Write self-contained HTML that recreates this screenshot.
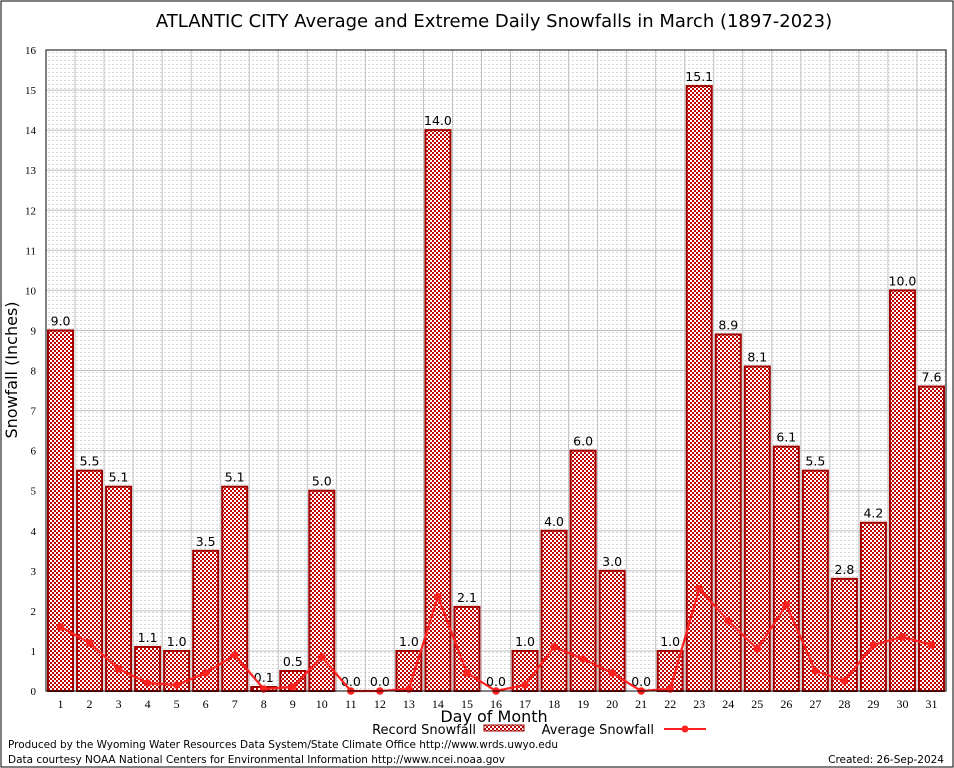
<!DOCTYPE html>
<html><head><meta charset="utf-8"><style>
body{margin:0;background:#fff;}
svg{display:block;font-family:"DejaVu Sans","Liberation Sans",sans-serif;}
</style></head><body>
<svg id="chart" width="954" height="768">
<defs>
<pattern id="chk" width="4" height="4" patternUnits="userSpaceOnUse">
<rect width="4" height="4" fill="#fff"/><rect width="2" height="2" fill="#c00000"/><rect x="2" y="2" width="2" height="2" fill="#c00000"/>
</pattern>
<pattern id="dots" width="4" height="4" patternUnits="userSpaceOnUse">
<rect width="4" height="4" fill="#fff"/><rect width="2" height="1" fill="#d8d8d8"/>
</pattern>
</defs>
<rect x="1" y="1" width="952" height="766" fill="#fff" stroke="#000"/>
<text x="494" y="27" font-size="18" text-anchor="middle">ATLANTIC CITY Average and Extreme Daily Snowfalls in March (1897-2023)</text>
<g id="grid"></g>
<g id="bars"></g>
<g id="avg"></g>
<g id="axes"></g>
<text transform="translate(17,370) rotate(-90)" font-size="16" text-anchor="middle">Snowfall (Inches)</text>
<text x="494" y="722" font-size="16" text-anchor="middle">Day of Month</text>
<g>
<text x="476" y="734" font-size="13" text-anchor="end">Record Snowfall</text>
<rect x="484" y="725" width="40" height="6" fill="url(#chk)" stroke="#a00000"/>
<text x="654" y="734" font-size="13" text-anchor="end">Average Snowfall</text>
<line x1="664" y1="729" x2="706" y2="729" stroke="#ff2020" stroke-width="2"/>
<circle cx="685" cy="729" r="3.5" fill="#ff2020"/>
</g>
<text x="8" y="748" font-size="10.5" textLength="550">Produced by the Wyoming Water Resources Data System/State Climate Office http://www.wrds.uwyo.edu</text>
<text x="8" y="763" font-size="10.5" textLength="497">Data courtesy NOAA National Centers for Environmental Information http://www.ncei.noaa.gov</text>
<text x="944" y="763" font-size="10.5" text-anchor="end">Created:  26-Sep-2024</text>
</svg>
<script>
const days = [1,2,3,4,5,6,7,8,9,10,11,12,13,14,15,16,17,18,19,20,21,22,23,24,25,26,27,28,29,30,31];
const recordSnow = [9.0,5.5,5.1,1.1,1.0,3.5,5.1,0.1,0.5,5.0,0.0,0.0,1.0,14.0,2.1,0.0,1.0,4.0,6.0,3.0,0.0,1.0,15.1,8.9,8.1,6.1,5.5,2.8,4.2,10.0,7.6];
const avgSnow = [1.6,1.2,0.55,0.2,0.15,0.45,0.9,0.05,0.1,0.85,0,0,0.05,2.35,0.45,0,0.15,1.1,0.8,0.45,0,0.05,2.55,1.75,1.05,2.15,0.5,0.25,1.15,1.35,1.15];
const yTicks = [0,1,2,3,4,5,6,7,8,9,10,11,12,13,14,15,16];

const NS="http://www.w3.org/2000/svg";
const L=46,R=946,T=50,B=691,yMax=16;
const step=(R-L)/31;
const x=d=>L+(d-0.5)*step;
const y=v=>B-(v/yMax)*(B-T);
function mk(tag,attrs,parent,txt){const e=document.createElementNS(NS,tag);for(const k in attrs)e.setAttribute(k,attrs[k]);if(txt!==undefined)e.textContent=txt;parent.appendChild(e);return e;}
const grid=document.getElementById('grid'),bars=document.getElementById('bars'),avg=document.getElementById('avg'),axes=document.getElementById('axes');
const bg=mk('rect',{x:L,y:T,width:R-L,height:B-T,fill:'url(#dots)'},grid);


yTicks.forEach(t=>{
  const g=mk('line',{x1:L,x2:R,y1:y(t),y2:y(t),stroke:'#c0c0c0'},grid);
  
  
  const lb=mk('text',{x:L-10,y:y(t)+4,'font-size':11,'text-anchor':'end','font-family':'Liberation Serif, serif'},axes,String(t));
  
  
});
for(let i=1;i<31;i++){
  const g=mk('line',{x1:L+i*step,x2:L+i*step,y1:T,y2:B,stroke:'#c0c0c0'},grid);
  
  
}
days.forEach((d,i)=>{
  const v=recordSnow[i],bw=25;
  const r=mk('rect',{x:x(d)-bw/2,y:y(v),width:bw,height:B-y(v),fill:'url(#chk)',stroke:'#a00000','stroke-width':2},bars);
  
  
  const t=mk('text',{x:x(d),y:y(v)-5,'font-size':12.5,'text-anchor':'middle'},bars,v.toFixed(1));
  
  
  const xl=mk('text',{x:x(d),y:B+17,'font-size':12,'text-anchor':'middle','font-family':'Liberation Serif, serif'},axes,String(d));
  
  
});
const pl=mk('polyline',{points:days.map((d,i)=>x(d)+','+y(avgSnow[i])).join(' '),fill:'none',stroke:'#ff2020','stroke-width':2.2},avg);


days.forEach((d,i)=>{
  const c=mk('circle',{cx:x(d),cy:y(avgSnow[i]),r:3.8,fill:'#ff2020'},avg);
  
  
});
const ax=mk('rect',{x:L,y:T,width:R-L,height:B-T,fill:'none',stroke:'#000'},axes);


</script>
</body></html>
